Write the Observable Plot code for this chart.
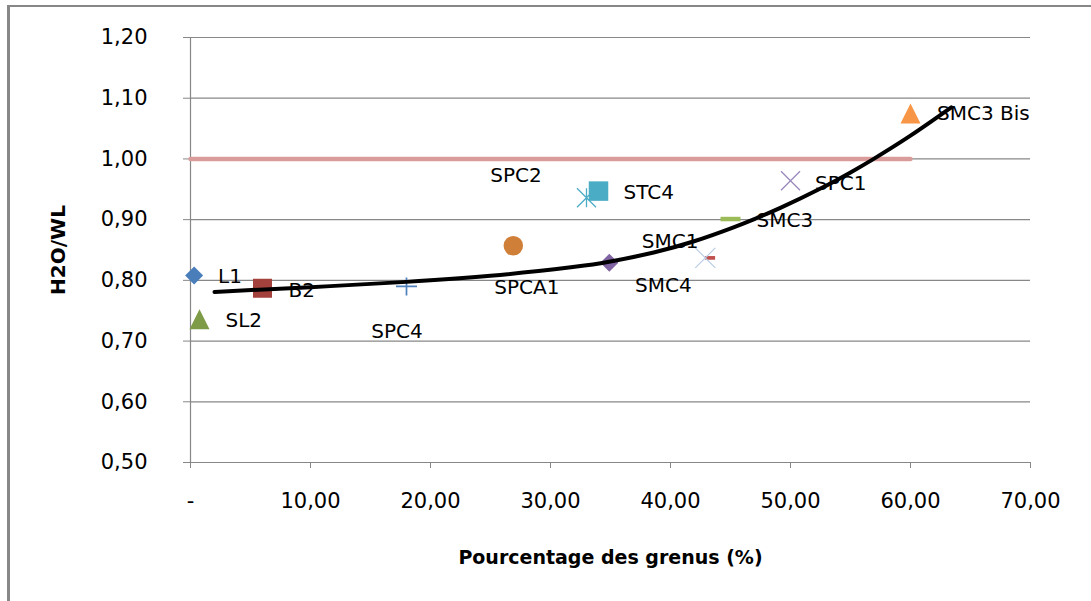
<!DOCTYPE html>
<html>
<head>
<meta charset="utf-8">
<script src="https://cdn.jsdelivr.net/npm/d3@7"></script>
<script src="https://cdn.jsdelivr.net/npm/@observablehq/plot@0.6"></script>
<style>
  html, body { margin: 0; padding: 0; background: #fff; overflow: hidden; }
  #wrap { position: relative; width: 1091px; height: 601px; }
  #frame { position: absolute; left: 7px; top: 5px; width: 1200px; height: 700px;
           border-left: 3px solid #878787; border-top: 2px solid #878787; pointer-events: none; }
  #chart svg { display: block; }
  #chart svg text { fill: #000; }
</style>
</head>
<body>
<div id="wrap"><div id="chart"></div><div id="frame"></div></div>
<script>
// ---- data ----
const names  = ["L1", "B2", "SL2", "SPC1", "SPC2", "SPCA1", "SPC4", "SMC1", "SMC3", "SMC4", "STC4", "SMC3 Bis"];
const grenus = [0.3, 6.0, 0.75, 50.0, 33.0, 26.9, 18.0, 43.3, 45.0, 34.9, 34.0, 60.0];
const ratio  = [0.808, 0.787, 0.736, 0.964, 0.936, 0.857, 0.790, 0.837, 0.901, 0.829, 0.947, 1.075];

// unlabelled series point (light blue cross near SMC1)
const extraX = [42.9];
const extraY = [0.837];

// reference line H2O/WL = 1
const refX = [0, 60];
const refY = [1.0, 1.0];

// trend curve
const trendX = [2, 10, 18, 25, 31.7, 35, 38.6, 41.9, 45.2, 47.2, 49.2, 52.5, 55, 56.8, 60, 63.4];
const trendY = [0.781, 0.7888, 0.7975, 0.8075, 0.8215, 0.831, 0.846, 0.864, 0.887, 0.9027, 0.9197, 0.9512, 0.9778, 0.9985, 1.0383, 1.0849];

const xTicks = [0, 10, 20, 30, 40, 50, 60, 70];
const xTickLabels = ["-", "10,00", "20,00", "30,00", "40,00", "50,00", "60,00", "70,00"];
const yTicks = [0.5, 0.6, 0.7, 0.8, 0.9, 1.0, 1.1, 1.2];
const yTickLabels = ["0,50", "0,60", "0,70", "0,80", "0,90", "1,00", "1,10", "1,20"];

const xTitle = "Pourcentage des grenus (%)";
const yTitle = "H2O/WL";

// ---- marker shapes (Excel-like) ----
const half = size => Math.sqrt(size / Math.PI);
const diamond = { draw(c, s) { const r = half(s); c.moveTo(0, -r); c.lineTo(r, 0); c.lineTo(0, r); c.lineTo(-r, 0); c.closePath(); } };
const square  = { draw(c, s) { const r = half(s); c.rect(-r, -r, 2 * r, 2 * r); } };
const triangle = { draw(c, s) { const r = half(s); c.moveTo(0, -r); c.lineTo(r, r); c.lineTo(-r, r); c.closePath(); } };
const times = { draw(c, s) { const r = half(s); c.moveTo(-r, -r); c.lineTo(r, r); c.moveTo(-r, r); c.lineTo(r, -r); } };
const star = { draw(c, s) { const r = half(s); c.moveTo(-r, -r); c.lineTo(r, r); c.moveTo(-r, r); c.lineTo(r, -r); c.moveTo(0, -r); c.lineTo(0, r); } };
const plus = { draw(c, s) { const r = half(s); c.moveTo(-r, 0); c.lineTo(r, 0); c.moveTo(0, -r * 0.86); c.lineTo(0, r * 0.86); } };
const dash = (w, h) => ({ draw(c) { c.rect(-w / 2, -h / 2, w, h); } });

const styles = {
  "L1":       { symbol: diamond,  r: 9,    fill: "#4a7ebb", stroke: "none" },
  "B2":       { symbol: square,   r: 9.5,  fill: "#a3413d", stroke: "none" },
  "SL2":      { symbol: triangle, r: 10,   fill: "#7e9c48", stroke: "none" },
  "SPC1":     { symbol: times,    r: 9.5,  fill: "none", stroke: "#9a89bd", sw: 1.3 },
  "SPC2":     { symbol: star,     r: 9.5,  fill: "none", stroke: "#4bacc6", sw: 1.3 },
  "SPCA1":    { symbol: "circle", r: 9.75, fill: "#d07f38", stroke: "none" },
  "SPC4":     { symbol: plus,     r: 10.5, fill: "none", stroke: "#4f81bd", sw: 1.7 },
  "SMC1":     { symbol: dash(10, 3.7), r: 5, fill: "#c0504d", stroke: "none" },
  "SMC3":     { symbol: dash(20, 4.5), r: 5, fill: "#9bbb59", stroke: "none" },
  "SMC4":     { symbol: diamond,  r: 9,    fill: "#8064a2", stroke: "none" },
  "STC4":     { symbol: square,   r: 9.75, fill: "#4bacc6", stroke: "none" },
  "SMC3 Bis": { symbol: triangle, r: 10,   fill: "#f79646", stroke: "none" }
};

// label offsets (px) relative to each marker
const labelPos = {
  "L1": [24, 1.5, "start"], "B2": [26, 2.5, "start"], "SL2": [26, 1, "start"],
  "SPC1": [24.5, 3, "start"], "SPC2": [-70.5, -22.5, "middle"], "SPCA1": [13.5, 42, "middle"],
  "SPC4": [-9.5, 45, "middle"], "SMC1": [-40, -16, "middle"], "SMC3": [26, 2, "start"],
  "SMC4": [54, 22.5, "middle"], "STC4": [25, 1, "start"], "SMC3 Bis": [26.5, 0.5, "start"]
};

const pts = names.map((n, i) => ({ name: n, x: grenus[i], y: ratio[i] }));
const extra = extraX.map((x, i) => ({ x, y: extraY[i] }));
const ref = refX.map((x, i) => ({ x, y: refY[i] }));
const trend = trendX.map((x, i) => ({ x, y: trendY[i] }));

const markerMarks = pts.map(d => {
  const s = styles[d.name];
  return Plot.dot([d], { x: "x", y: "y", symbol: s.symbol, r: s.r, fill: s.fill, stroke: s.stroke, strokeWidth: s.sw || 1 });
});
const labelMarks = pts.map(d => {
  const [dx, dy, anchor] = labelPos[d.name];
  return Plot.text([d], { x: "x", y: "y", text: "name", dx, dy, textAnchor: anchor, lineAnchor: "middle", fontSize: 20, fill: "#000" });
});

const chart = Plot.plot({
  width: 1091,
  height: 601,
  marginLeft: 190,
  marginRight: 61,
  marginTop: 37,
  marginBottom: 139,
  style: { fontFamily: "DejaVu Sans", fontSize: "21px", color: "#878787", background: "transparent", overflow: "visible" },
  x: { domain: [0, 70], ticks: xTicks, tickSize: 6, tickPadding: 25, label: null,
       tickFormat: d => xTickLabels[xTicks.indexOf(d)] },
  y: { domain: [0.5, 1.2], ticks: yTicks, tickSize: 7, tickPadding: 36, label: null,
       tickFormat: d => yTickLabels[yTicks.findIndex(t => Math.abs(t - d) < 1e-9)] },
  marks: [
    Plot.ruleY(yTicks, { stroke: "#878787", strokeWidth: 1.2 }),
    Plot.ruleX([0], { stroke: "#878787", strokeWidth: 1.2 }),
    Plot.line(ref, { x: "x", y: "y", stroke: "#d99c9a", strokeWidth: 4.5 }),
    ...markerMarks,
    Plot.dot(extra, { x: "x", y: "y", symbol: times, r: 10, fill: "none", stroke: "#b9cde5", strokeWidth: 1.2 }),
    ...labelMarks,
    Plot.line(trend, { x: "x", y: "y", curve: "natural", stroke: "#000", strokeWidth: 4 }),
    Plot.text([xTitle], { text: d => d, frameAnchor: "bottom", lineAnchor: "middle", textAnchor: "middle", dy: 95, fontSize: 19, fontWeight: "bold", fill: "#000" }),
    Plot.text([yTitle], { text: d => d, frameAnchor: "left", lineAnchor: "middle", textAnchor: "middle", dx: -132, rotate: -90, fontSize: 20, fontWeight: "bold", fill: "#000" })
  ]
});
document.getElementById("chart").appendChild(chart);
</script>
</body>
</html>
